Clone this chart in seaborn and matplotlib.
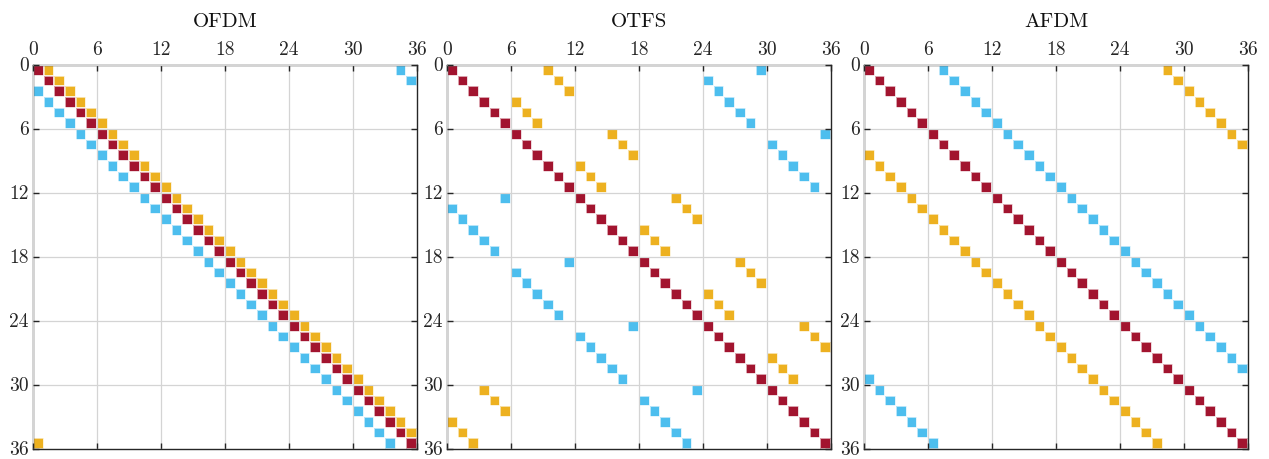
import numpy as np
import pandas as pd
import matplotlib
matplotlib.use("Agg")
import matplotlib.pyplot as plt
import seaborn as sns
from matplotlib.colors import ListedColormap

plt.rcParams['font.family'] = ['cmr10', 'DejaVu Serif']
plt.rcParams['axes.formatter.use_mathtext'] = True

N = 36
rows = list(range(N))
titles = ['OFDM', 'OTFS', 'AFDM']

# column index of each coloured cell, one entry per row
ofdm_red = [0, 1, 2, 3, 4, 5, 6, 7, 8, 9, 10, 11, 12, 13, 14, 15, 16, 17,
            18, 19, 20, 21, 22, 23, 24, 25, 26, 27, 28, 29, 30, 31, 32, 33, 34, 35]
ofdm_orange = [1, 2, 3, 4, 5, 6, 7, 8, 9, 10, 11, 12, 13, 14, 15, 16, 17, 18,
               19, 20, 21, 22, 23, 24, 25, 26, 27, 28, 29, 30, 31, 32, 33, 34, 35, 0]
ofdm_blue = [34, 35, 0, 1, 2, 3, 4, 5, 6, 7, 8, 9, 10, 11, 12, 13, 14, 15,
             16, 17, 18, 19, 20, 21, 22, 23, 24, 25, 26, 27, 28, 29, 30, 31, 32, 33]

otfs_red = [0, 1, 2, 3, 4, 5, 6, 7, 8, 9, 10, 11, 12, 13, 14, 15, 16, 17,
            18, 19, 20, 21, 22, 23, 24, 25, 26, 27, 28, 29, 30, 31, 32, 33, 34, 35]
otfs_orange = [9, 10, 11, 6, 7, 8, 15, 16, 17, 12, 13, 14, 21, 22, 23, 18, 19, 20,
               27, 28, 29, 24, 25, 26, 33, 34, 35, 30, 31, 32, 3, 4, 5, 0, 1, 2]
otfs_blue = [29, 24, 25, 26, 27, 28, 35, 30, 31, 32, 33, 34, 5, 0, 1, 2, 3, 4,
             11, 6, 7, 8, 9, 10, 17, 12, 13, 14, 15, 16, 23, 18, 19, 20, 21, 22]

afdm_red = [0, 1, 2, 3, 4, 5, 6, 7, 8, 9, 10, 11, 12, 13, 14, 15, 16, 17,
            18, 19, 20, 21, 22, 23, 24, 25, 26, 27, 28, 29, 30, 31, 32, 33, 34, 35]
afdm_orange = [28, 29, 30, 31, 32, 33, 34, 35, 0, 1, 2, 3, 4, 5, 6, 7, 8, 9,
               10, 11, 12, 13, 14, 15, 16, 17, 18, 19, 20, 21, 22, 23, 24, 25, 26, 27]
afdm_blue = [7, 8, 9, 10, 11, 12, 13, 14, 15, 16, 17, 18, 19, 20, 21, 22, 23, 24,
             25, 26, 27, 28, 29, 30, 31, 32, 33, 34, 35, 0, 1, 2, 3, 4, 5, 6]

panels = [(ofdm_red, ofdm_orange, ofdm_blue),
          (otfs_red, otfs_orange, otfs_blue),
          (afdm_red, afdm_orange, afdm_blue)]

ticks = [0, 6, 12, 18, 24, 30, 36]
cmap = ListedColormap(['#A2142F', '#EDB120', '#4DBEEE'])

fig = plt.figure(figsize=(12.69, 4.6), dpi=100)
lefts = [33 / 1269, 447 / 1269, 864 / 1269]

for k in range(3):
    red, orange, blue = panels[k]
    mat = np.zeros((N, N))
    mat[rows, blue] = 3
    mat[rows, orange] = 2
    mat[rows, red] = 1
    df = pd.DataFrame(mat)

    ax = fig.add_axes([lefts[k], 10 / 460, 384 / 1269, 384 / 460])
    sns.heatmap(df, mask=(mat == 0), cmap=cmap, vmin=0.5, vmax=3.5, cbar=False,
                linewidths=0.35, linecolor=(1, 1, 1, 0.6), square=False, ax=ax)
    # grid lines sit on cell borders, so drawing them on top only tints the edges
    ax.set_axisbelow(False)
    ax.grid(True, color='#d4d4d4', linewidth=0.9, linestyle='-', alpha=1)

    ax.xaxis.tick_top()
    ax.set_xticks(ticks)
    ax.set_xticklabels([str(t) for t in ticks])
    ax.set_yticks(ticks)
    ax.set_yticklabels([str(t) for t in ticks], rotation=0)
    ax.tick_params(axis='both', direction='in', top=True, bottom=True, left=True, right=True,
                   labeltop=True, labelbottom=False, labelleft=True, labelright=False,
                   length=4, width=1, color='#262626', labelsize=14, labelcolor='#262626')
    ax.tick_params(axis='x', pad=5)
    ax.tick_params(axis='y', pad=3)
    ax.set_xlabel('')
    ax.set_ylabel('')
    for s in ax.spines.values():
        s.set_visible(True)
        s.set_color('#262626')
        s.set_linewidth(1.0)
    ax.set_title(titles[k], fontsize=15, pad=10, color='#111111')

plt.savefig('out.png', dpi=100)
